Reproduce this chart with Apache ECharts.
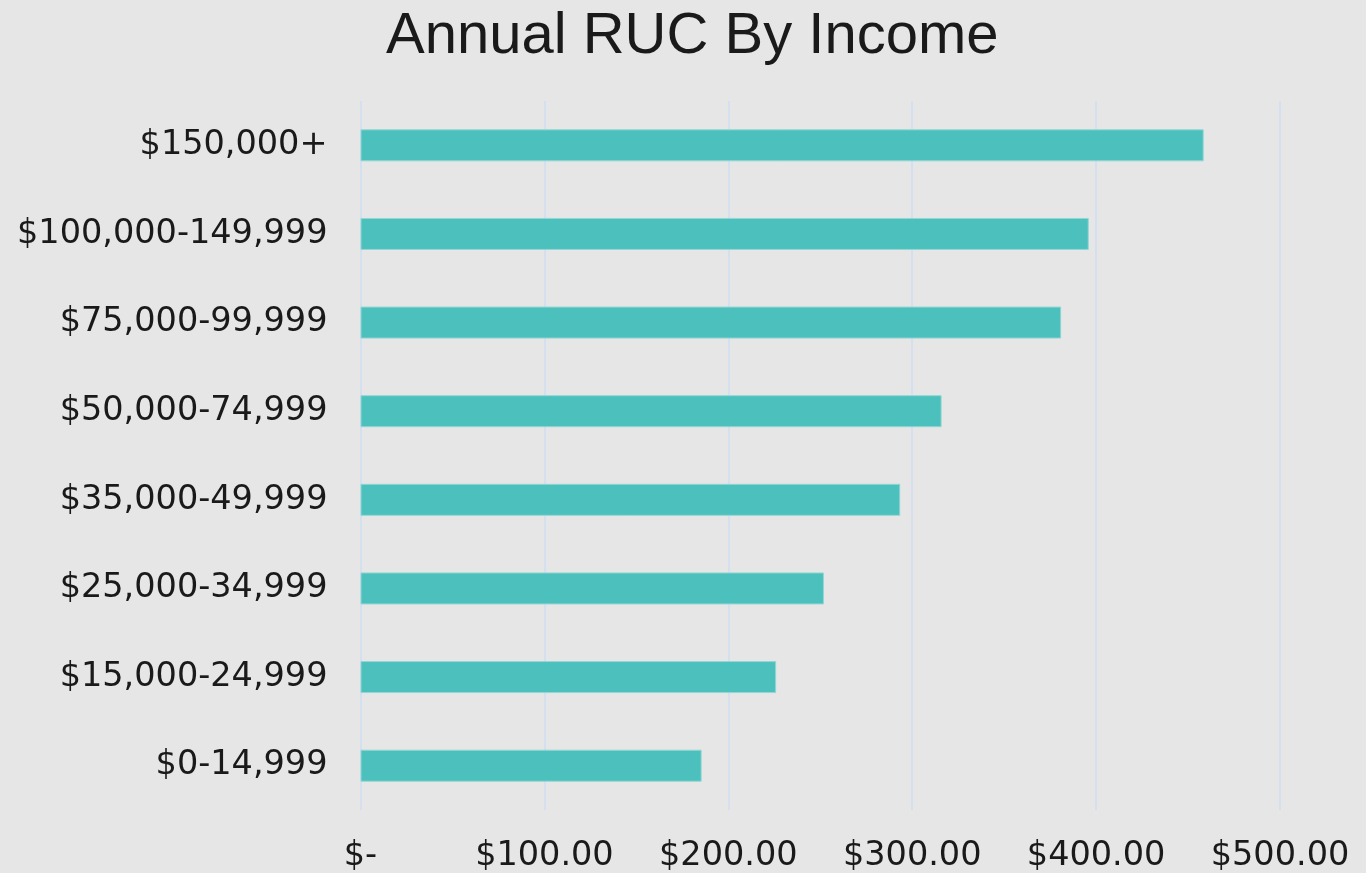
<!DOCTYPE html>
<html><head><meta charset="utf-8">
<script src="https://cdn.jsdelivr.net/npm/echarts@6/dist/echarts.min.js"></script>
<style>html,body{margin:0;padding:0;background:#e7e6e6}#c{width:1366px;height:873px}</style>
</head><body><div id="c"></div>
<script>
const categories = ['$0-14,999','$15,000-24,999','$25,000-34,999','$35,000-49,999','$50,000-74,999','$75,000-99,999','$100,000-149,999','$150,000+'];
const values = [185.5, 226, 252, 293.5, 316, 381, 396, 458.5];
const tickLabels = {0:'$-',100:'$100.00',200:'$200.00',300:'$300.00',400:'$400.00',500:'$500.00'};

const chart = echarts.init(document.getElementById('c'));
chart.setOption({
  backgroundColor: '#e7e6e6',
  animation: false,
  title: {
    text: 'Annual RUC By Income',
    left: 381, top: 3,
    textStyle: { fontFamily: 'Liberation Sans', fontSize: 58, fontWeight: 'normal', color: '#1a1a1a' }
  },
  grid: { left: 360.5, right: 86, top: 101, bottom: 62, containLabel: false },
  xAxis: {
    type: 'value', min: 0, max: 500, interval: 100,
    axisLine: { show: false }, axisTick: { show: false },
    splitLine: { show: true, lineStyle: { color: '#d4dff0', width: 2 } },
    axisLabel: { margin: 29, fontFamily: 'DejaVu Sans', fontSize: 33.5, color: '#1a1a1a',
      formatter: v => tickLabels[v] }
  },
  yAxis: {
    type: 'category', data: categories,
    axisLine: { show: false }, axisTick: { show: false },
    axisLabel: { margin: 33, fontFamily: 'DejaVu Sans', fontSize: 33.5, color: '#1a1a1a', padding: [5, 0, 0, 0] }
  },
  series: [{
    type: 'bar', data: values, barWidth: 32,
    itemStyle: { color: '#4bc0bd', borderColor: '#93d6d3', borderWidth: 1 }
  }]
});
</script></body></html>
